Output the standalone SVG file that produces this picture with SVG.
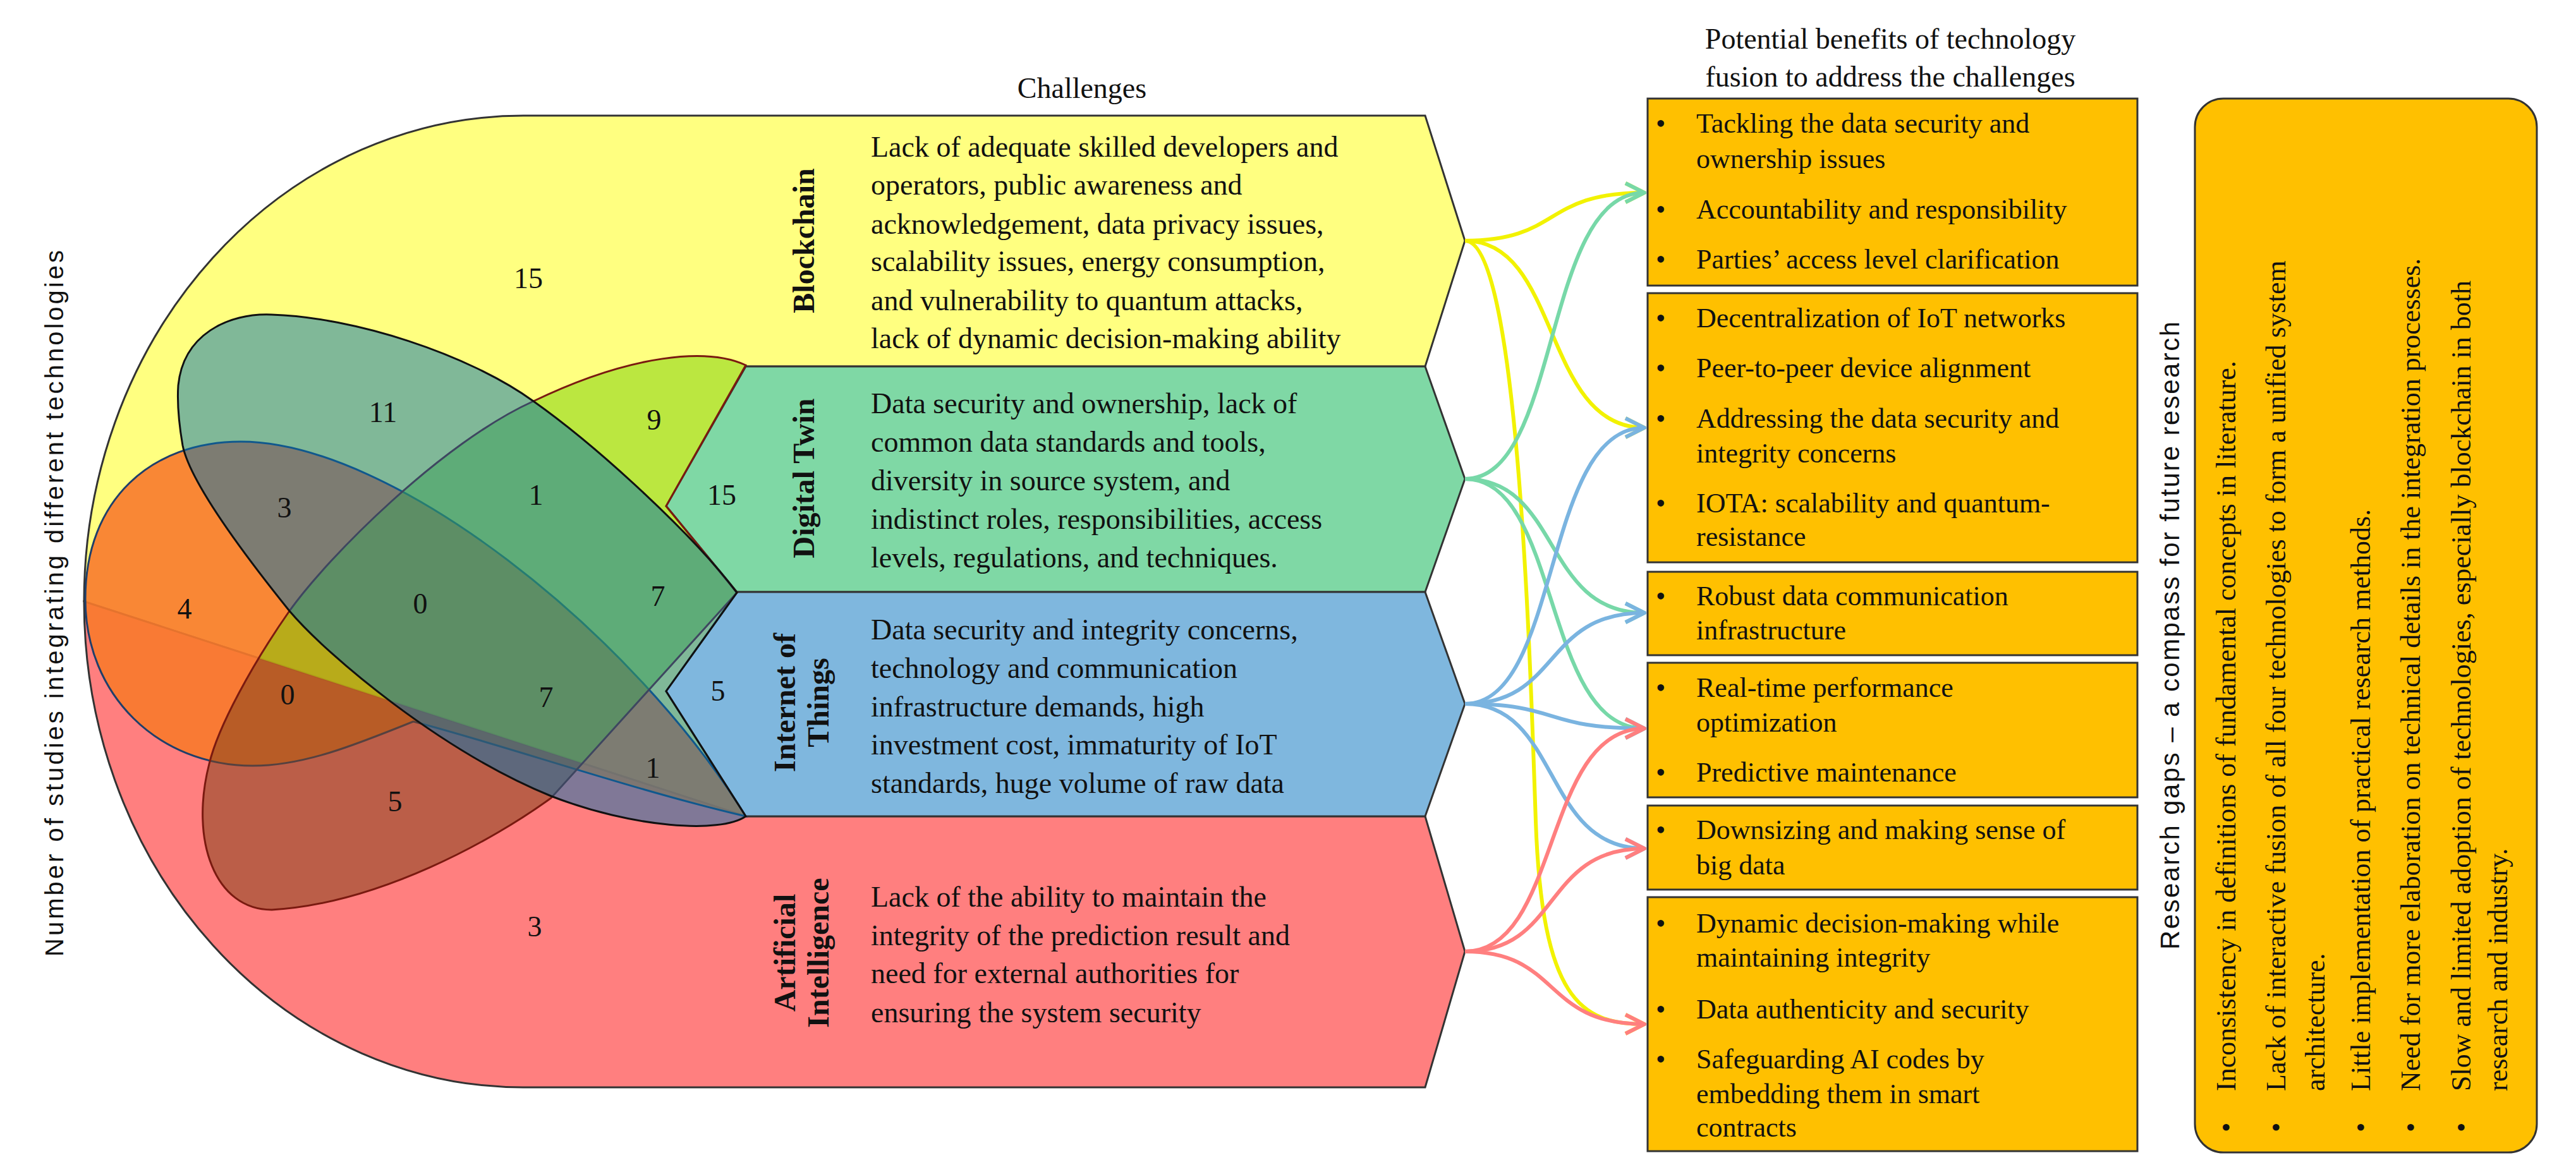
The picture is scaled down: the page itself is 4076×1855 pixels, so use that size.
<svg xmlns="http://www.w3.org/2000/svg" width="4076" height="1855" viewBox="0 0 4076 1855">
<style>
.ser{font-family:"Liberation Serif","DejaVu Serif",serif;fill:#111}
.ch{font-size:46px}
.num{font-size:46px;text-anchor:middle}
.lab{font-size:48px;font-weight:bold;text-anchor:middle}
.bx{font-size:44px}
.box{fill:#FFC000;stroke:#333;stroke-width:3}
.band{stroke:#333;stroke-width:3}
.con{fill:none;stroke-width:6}
</style>
<defs>
<marker id="my" viewBox="0 0 12 12" refX="11" refY="6" markerWidth="6" markerHeight="6" orient="auto" markerUnits="strokeWidth"><path d="M1,1 L11,6 L1,11" fill="none" stroke="#F2F200" stroke-width="2"/></marker>
<marker id="mg" viewBox="0 0 12 12" refX="11" refY="6" markerWidth="6" markerHeight="6" orient="auto" markerUnits="strokeWidth"><path d="M1,1 L11,6 L1,11" fill="none" stroke="#77D8A8" stroke-width="2"/></marker>
<marker id="mb" viewBox="0 0 12 12" refX="11" refY="6" markerWidth="6" markerHeight="6" orient="auto" markerUnits="strokeWidth"><path d="M1,1 L11,6 L1,11" fill="none" stroke="#7AB4E0" stroke-width="2"/></marker>
<marker id="mr" viewBox="0 0 12 12" refX="11" refY="6" markerWidth="6" markerHeight="6" orient="auto" markerUnits="strokeWidth"><path d="M1,1 L11,6 L1,11" fill="none" stroke="#FF7F7F" stroke-width="2"/></marker>
<clipPath id="top"><path d="M0,0 H4076 V1292 H1180 L133,952 L0,952 Z"/></clipPath>
<clipPath id="bot"><path d="M0,952 L133,952 L1180,1292 H4076 V1855 H0 Z"/></clipPath>
<path id="pB" d="M331,1209 C300,1330 340,1440 430,1440 C600,1430 780,1330 872,1263 L1166,938 L1054,801 L1180,578 C1120,550 1000,560 844,635 C700,700 520,880 458,967 C400,1050 345,1150 331,1209 Z"/>
</defs>

<text class="ser" x="1712" y="155" font-size="46" text-anchor="middle">Challenges</text>
<text x="0" y="0" transform="translate(100,955) rotate(-90)" font-family="Liberation Sans,Arial,sans-serif" font-size="40" text-anchor="middle" textLength="1118" fill="#111">Number of studies integrating different technologies</text>

<g id="blockchain">
<path class="band" fill="#FFFF80" d="M133,952 A695,769 0 0 1 828,183 L2255,183 L2318,381 L2255,580 L1180,580 L1180,1292 Z"/>
</g>
<g id="ai">
<path class="band" fill="#FF7F7F" d="M133,952 A695,769 0 0 0 828,1721 L2255,1721 L2318,1506 L2255,1292 L1180,1292 Z"/>
</g>
<g id="digital-twin">
<path class="band" fill="#7FD8A5" d="M1180,580 L2255,580 L2318,758 L2255,937 L1166,937 L1054,801 Z"/>
</g>
<g id="iot">
<path class="band" fill="#7FB7DE" d="M1166,937 L2255,937 L2318,1114 L2255,1292 L1180,1292 L1054,1094 Z"/>
</g>

<g id="venn">
<path d="M135,948 C135,790 240,699 381,699 C620,699 1000,1000 1180,1292 C1000,1250 800,1180 654,1142 C560,1180 480,1212 400,1212 C250,1212 135,1100 135,948 Z" fill="#F87A2C" fill-opacity="0.9" stroke="#1F3F6A" stroke-width="3"/>
<use href="#pB" fill="#78D000" fill-opacity="0.5" clip-path="url(#top)"/>
<use href="#pB" fill="#83441C" fill-opacity="0.55" clip-path="url(#bot)"/>
<use href="#pB" fill="none" stroke="#7A1A10" stroke-width="3"/>
<path d="M282,610 C290,530 360,495 430,498 C560,502 740,560 844,635 C950,710 1100,850 1166,938 L1054,1094 L1180,1292 C1140,1320 1000,1310 872,1260 C700,1190 520,1040 458,967 C380,870 300,760 289,705 C283,670 280,640 282,610 Z" fill="#0171B0" fill-opacity="0.5" stroke="#111" stroke-width="3"/>
</g>

<g id="numbers" class="ser">
<text class="num" x="836" y="456">15</text>
<text class="num" x="606" y="668">11</text>
<text class="num" x="1035" y="680">9</text>
<text class="num" x="450" y="819">3</text>
<text class="num" x="848" y="799">1</text>
<text class="num" x="1142" y="799">15</text>
<text class="num" x="292" y="979">4</text>
<text class="num" x="665" y="971">0</text>
<text class="num" x="1041" y="959">7</text>
<text class="num" x="455" y="1115">0</text>
<text class="num" x="864" y="1119">7</text>
<text class="num" x="1136" y="1109">5</text>
<text class="num" x="1033" y="1231">1</text>
<text class="num" x="625" y="1284">5</text>
<text class="num" x="846" y="1482">3</text>
</g>

<g id="labels" class="ser">
<text class="lab" transform="translate(1288,381) rotate(-90)">Blockchain</text>
<text class="lab" transform="translate(1288,757) rotate(-90)">Digital Twin</text>
<text class="lab" transform="translate(1258,1112) rotate(-90)">Internet of</text>
<text class="lab" transform="translate(1311,1112) rotate(-90)">Things</text>
<text class="lab" transform="translate(1258,1508) rotate(-90)">Artificial</text>
<text class="lab" transform="translate(1311,1508) rotate(-90)">Intelligence</text>
</g>

<g id="challenges" class="ser ch">
<text x="1378" y="248">Lack of adequate skilled developers and</text>
<text x="1378" y="308">operators, public awareness and</text>
<text x="1378" y="370">acknowledgement, data privacy issues,</text>
<text x="1378" y="429">scalability issues, energy consumption,</text>
<text x="1378" y="491">and vulnerability to quantum attacks,</text>
<text x="1378" y="551">lack of dynamic decision-making ability</text>
<text x="1378" y="654">Data security and ownership, lack of</text>
<text x="1378" y="715">common data standards and tools,</text>
<text x="1378" y="776">diversity in source system, and</text>
<text x="1378" y="837">indistinct roles, responsibilities, access</text>
<text x="1378" y="898">levels, regulations, and techniques.</text>
<text x="1378" y="1012">Data security and integrity concerns,</text>
<text x="1378" y="1073">technology and communication</text>
<text x="1378" y="1134">infrastructure demands, high</text>
<text x="1378" y="1194">investment cost, immaturity of IoT</text>
<text x="1378" y="1255">standards, huge volume of raw data</text>
<text x="1378" y="1435">Lack of the ability to maintain the</text>
<text x="1378" y="1496">integrity of the prediction result and</text>
<text x="1378" y="1556">need for external authorities for</text>
<text x="1378" y="1618">ensuring the system security</text>
</g>

<g id="connectors" class="con">
<path stroke="#F2F200" marker-end="url(#my)" d="M2318,381 C2470,381 2440,305 2602,305"/>
<path stroke="#F2F200" marker-end="url(#my)" d="M2318,381 C2470,381 2440,677 2602,677"/>
<path stroke="#F2F200" marker-end="url(#my)" d="M2318,381 C2400,381 2420,1000 2430,1300 C2440,1580 2500,1621 2602,1621"/>
<path stroke="#77D8A8" marker-end="url(#mg)" d="M2318,758 C2470,758 2440,305 2602,305"/>
<path stroke="#77D8A8" marker-end="url(#mg)" d="M2318,758 C2470,758 2440,970 2602,970"/>
<path stroke="#77D8A8" marker-end="url(#mg)" d="M2318,758 C2470,758 2440,1153 2602,1153"/>
<path stroke="#7AB4E0" marker-end="url(#mb)" d="M2318,1114 C2470,1114 2440,677 2602,677"/>
<path stroke="#7AB4E0" marker-end="url(#mb)" d="M2318,1114 C2470,1114 2440,970 2602,970"/>
<path stroke="#7AB4E0" marker-end="url(#mb)" d="M2318,1114 C2470,1114 2440,1153 2602,1153"/>
<path stroke="#7AB4E0" marker-end="url(#mb)" d="M2318,1114 C2470,1114 2440,1343 2602,1343"/>
<path stroke="#FF7F7F" marker-end="url(#mr)" d="M2318,1506 C2470,1506 2440,1153 2602,1153"/>
<path stroke="#FF7F7F" marker-end="url(#mr)" d="M2318,1506 C2470,1506 2440,1343 2602,1343"/>
<path stroke="#FF7F7F" marker-end="url(#mr)" d="M2318,1506 C2470,1506 2440,1621 2602,1621"/>
</g>

<text class="ser" x="2991" y="77" font-size="46" text-anchor="middle">Potential benefits of technology</text>
<text class="ser" x="2991" y="137" font-size="46" text-anchor="middle">fusion to address the challenges</text>

<g id="box1" class="ser bx">
<rect class="box" x="2607" y="156" width="775" height="296"/>
<text x="2620" y="210">•</text><text x="2684" y="210">Tackling the data security and</text>
<text x="2684" y="266">ownership issues</text>
<text x="2620" y="346">•</text><text x="2684" y="346">Accountability and responsibility</text>
<text x="2620" y="425">•</text><text x="2684" y="425">Parties’ access level clarification</text>
</g>
<g id="box2" class="ser bx">
<rect class="box" x="2607" y="464" width="775" height="426"/>
<text x="2620" y="518">•</text><text x="2684" y="518">Decentralization of IoT networks</text>
<text x="2620" y="597">•</text><text x="2684" y="597">Peer-to-peer device alignment</text>
<text x="2620" y="677">•</text><text x="2684" y="677">Addressing the data security and</text>
<text x="2684" y="732">integrity concerns</text>
<text x="2620" y="811">•</text><text x="2684" y="811">IOTA: scalability and quantum-</text>
<text x="2684" y="864">resistance</text>
</g>
<g id="box3" class="ser bx">
<rect class="box" x="2607" y="905" width="775" height="132"/>
<text x="2620" y="958">•</text><text x="2684" y="958">Robust data communication</text>
<text x="2684" y="1012">infrastructure</text>
</g>
<g id="box4" class="ser bx">
<rect class="box" x="2607" y="1049" width="775" height="213"/>
<text x="2620" y="1103">•</text><text x="2684" y="1103">Real-time performance</text>
<text x="2684" y="1158">optimization</text>
<text x="2620" y="1237">•</text><text x="2684" y="1237">Predictive maintenance</text>
</g>
<g id="box5" class="ser bx">
<rect class="box" x="2607" y="1275" width="775" height="133"/>
<text x="2620" y="1328">•</text><text x="2684" y="1328">Downsizing and making sense of</text>
<text x="2684" y="1384">big data</text>
</g>
<g id="box6" class="ser bx">
<rect class="box" x="2607" y="1420" width="775" height="402"/>
<text x="2620" y="1476">•</text><text x="2684" y="1476">Dynamic decision-making while</text>
<text x="2684" y="1530">maintaining integrity</text>
<text x="2620" y="1612">•</text><text x="2684" y="1612">Data authenticity and security</text>
<text x="2620" y="1691">•</text><text x="2684" y="1691">Safeguarding AI codes by</text>
<text x="2684" y="1746">embedding them in smart</text>
<text x="2684" y="1799">contracts</text>
</g>

<text transform="translate(3448,1006) rotate(-90)" font-family="Liberation Sans,Arial,sans-serif" font-size="42" text-anchor="middle" textLength="994" fill="#111">Research gaps – a compass for future research</text>

<g id="research-gaps" class="ser bx">
<rect x="3473" y="156" width="541" height="1668" rx="45" fill="#FFC000" stroke="#333" stroke-width="3"/>
<g transform="translate(3537,1727) rotate(-90)"><text x="0" y="0">Inconsistency in definitions of fundamental concepts in literature.</text><text x="-65" y="0">•</text></g>
<g transform="translate(3616,1727) rotate(-90)"><text x="0" y="0">Lack of interactive fusion of all four technologies to form a unified system</text><text x="-65" y="0">•</text></g>
<g transform="translate(3678,1727) rotate(-90)"><text x="0" y="0">architecture.</text></g>
<g transform="translate(3750,1727) rotate(-90)"><text x="0" y="0">Little implementation of practical research methods.</text><text x="-65" y="0">•</text></g>
<g transform="translate(3829,1727) rotate(-90)"><text x="0" y="0">Need for more elaboration on technical details in the integration processes.</text><text x="-65" y="0">•</text></g>
<g transform="translate(3909,1727) rotate(-90)"><text x="0" y="0">Slow and limited adoption of technologies, especially blockchain in both</text><text x="-65" y="0">•</text></g>
<g transform="translate(3967,1727) rotate(-90)"><text x="0" y="0">research and industry.</text></g>
</g>
</svg>
